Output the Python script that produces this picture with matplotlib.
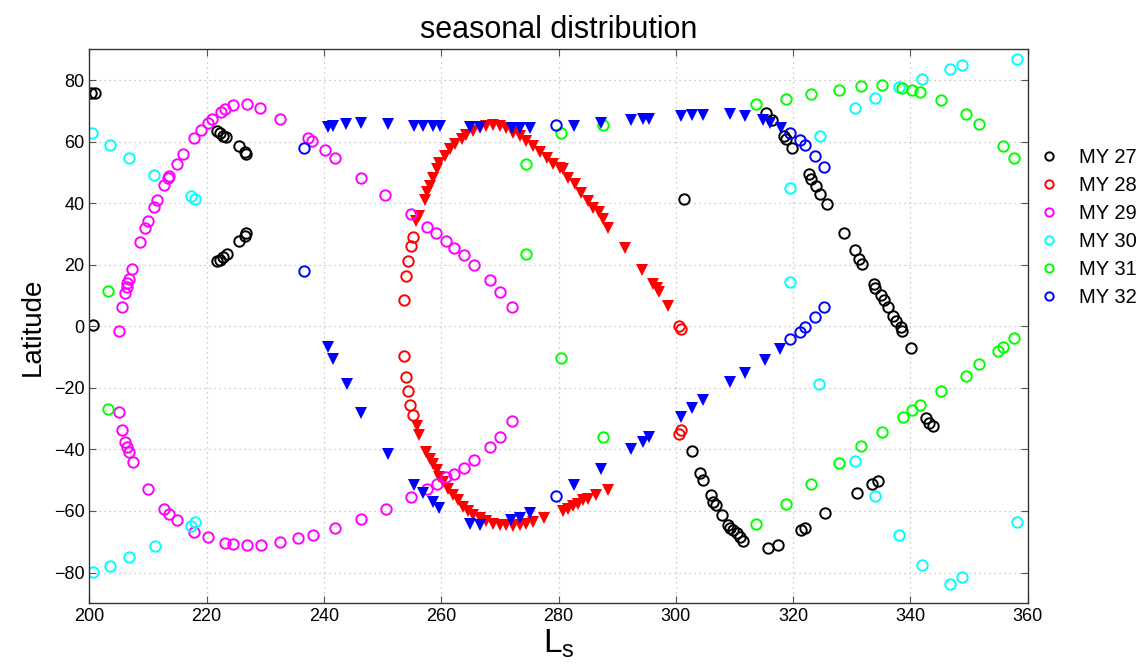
import matplotlib.pyplot as plt
import numpy as np

# ---------------- data ----------------
# MY 27, black circles
ls27 = [200.3, 201.0, 200.6,
        221.7, 222.3, 222.8, 223.3, 225.6, 226.5, 226.7,
        221.7, 222.3, 222.8, 223.4, 225.5, 226.5, 226.7,
        301.4, 302.8, 304.2, 304.7, 306.0, 306.4, 306.8, 307.9, 308.9, 309.3,
        309.8, 310.4, 310.9, 311.4, 315.7, 317.4, 321.4, 322.1,
        315.4, 316.4, 318.4, 318.8, 319.8,
        322.7, 323.1, 323.9, 324.6, 325.8, 328.7, 330.5, 331.3, 331.8,
        333.8, 334.0, 334.9, 335.4, 336.1, 337.0, 337.5, 338.4, 338.6, 340.1,
        342.7, 343.2, 343.8, 325.5, 330.9, 333.5, 334.4]
lat27 = [75.8, 75.8, 0.4,
         63.4, 62.7, 62.0, 61.5, 58.5, 56.6, 55.9,
         21.1, 21.6, 22.6, 23.5, 27.8, 29.4, 30.2,
         41.5, -40.5, -47.5, -49.8, -54.9, -57.1, -58.1, -61.4, -64.4, -65.4,
         -66.2, -67.3, -68.4, -69.7, -72.0, -71.1, -66.2, -65.5,
         69.4, 67.0, 61.8, 61.0, 58.0,
         49.6, 48.0, 45.6, 43.1, 39.9, 30.4, 24.7, 21.8, 20.4,
         13.9, 12.6, 10.2, 8.5, 6.2, 3.5, 1.8, -0.3, -1.6, -7.0,
         -29.7, -31.4, -32.5, -60.8, -54.1, -51.1, -50.2]

# MY 28, red circles and triangles
ls28 = [255.2, 254.8, 254.3, 254.0, 253.6, 253.6, 254.0, 254.3, 254.6, 255.2,
        300.6, 300.9, 300.6, 300.9]
lat28 = [29.1, 26.1, 21.1, 16.4, 8.6, -9.5, -16.5, -20.9, -25.7, -28.7,
         0.2, -0.9, -34.9, -33.8]
ls28_tri = [255.7, 256.2, 257.2, 257.5, 258.1, 258.6, 259.2, 259.7, 260.6, 261.5,
            262.3, 263.5, 264.3, 265.4, 266.6, 267.7, 268.8, 270.0, 271.1, 272.3,
            273.4, 274.5, 275.7, 276.8, 278.0, 279.1, 280.2, 280.8, 281.6, 282.8,
            283.9, 285.0, 285.9, 286.9, 287.6, 288.4, 291.3, 294.3, 296.1, 296.7,
            297.2, 298.7,
            255.8, 256.2, 257.4, 258.0, 258.6, 259.2, 259.7, 260.3, 261.2, 262.0,
            262.9, 263.7, 264.6, 265.4, 266.6, 267.7, 268.8, 270.0, 271.1, 272.2,
            273.4, 274.5, 275.7, 277.6, 280.8, 281.6, 282.5, 283.3, 284.2, 285.0,
            286.4, 288.4]
lat28_tri = [34.3, 36.0, 41.0, 43.5, 45.6, 48.3, 51.0, 53.2, 55.3, 57.5,
             59.1, 61.0, 62.3, 63.6, 64.5, 65.0, 65.4, 65.0, 64.3, 62.9,
             61.8, 60.2, 58.6, 56.7, 54.8, 52.6, 51.5, 51.0, 48.3, 46.1,
             43.4, 40.7, 38.6, 37.0, 34.8, 32.1, 25.6, 18.3, 13.7, 12.6,
             11.0, 6.7,
             -32.5, -35.4, -40.8, -43.0, -44.6, -46.8, -48.9, -50.6, -52.7, -54.9,
             -56.5, -58.7, -60.0, -61.4, -62.4, -63.2, -64.3, -64.7, -64.7, -64.8,
             -64.6, -64.1, -63.5, -62.4, -60.0, -59.2, -58.4, -57.6, -56.5, -56.0,
             -54.9, -53.3]

# MY 29, magenta circles
ls29 = [205.6, 206.1, 206.4, 206.5, 206.8, 207.3, 208.6, 209.5, 210.0, 211.0,
        211.6, 212.8, 213.4, 213.6, 214.9, 216.0, 217.8, 219.0, 220.2, 220.9,
        222.5, 223.2, 224.5, 226.8, 229.1, 232.5, 237.3, 238.0, 240.2, 241.9,
        246.3, 250.4, 254.8, 257.6, 259.1, 260.8, 262.2, 263.8, 265.5, 268.3,
        270.1, 272.1,
        205.1, 205.1, 205.6, 206.1, 206.4, 206.7, 207.4, 210.0, 212.8, 213.6,
        214.9, 217.9, 220.2, 223.2, 224.5, 226.8, 229.3, 232.5, 235.6, 238.1,
        241.9, 246.3, 250.5, 254.9, 257.6, 259.2, 260.8, 262.2, 263.8, 265.5,
        268.3, 270.1, 272.1]
lat29 = [6.2, 10.8, 12.7, 14.0, 15.3, 18.6, 27.4, 31.8, 34.3, 38.9,
         41.1, 45.8, 48.3, 48.8, 52.8, 56.1, 61.3, 63.7, 66.1, 67.5,
         69.6, 70.7, 71.9, 72.1, 71.0, 67.5, 61.3, 60.2, 57.2, 54.6,
         48.3, 42.6, 36.4, 32.4, 30.3, 27.8, 25.6, 23.1, 20.0, 15.1,
         11.3, 6.2,
         -1.6, -27.7, -33.8, -37.6, -39.2, -40.8, -44.0, -53.0, -59.5, -61.0,
         -63.0, -66.8, -68.6, -70.3, -70.8, -71.1, -70.9, -70.2, -68.9, -67.8,
         -65.5, -62.7, -59.5, -55.6, -53.0, -51.3, -48.9, -47.9, -45.9, -43.5,
         -39.2, -35.8, -30.8]

# MY 30, cyan circles
ls30 = [200.4, 203.5, 206.7, 211.0, 217.4, 218.0,
        200.6, 203.5, 206.7, 211.2, 217.3, 218.1,
        319.5, 319.5, 324.5, 330.6, 334.0, 338.0, 341.9, 346.7, 348.7, 358.2,
        324.4, 330.6, 334.0, 338.0, 341.9, 346.7, 348.7, 358.2]
lat30 = [62.7, 58.8, 54.8, 49.2, 42.4, 41.3,
         -79.7, -77.8, -75.0, -71.3, -64.8, -63.7,
         44.8, 14.3, 62.0, 71.0, 74.2, 77.7, 80.5, 83.6, 84.8, 86.9,
         -18.6, -43.9, -55.2, -67.8, -77.6, -83.8, -81.6, -63.7]

# MY 31, green circles
ls31 = [203.2, 203.2, 274.5, 274.5, 280.5, 280.5, 287.5, 287.6,
        313.6, 318.7, 323.1, 327.8, 331.6, 335.1, 338.6, 340.3, 341.7, 345.2,
        349.4, 351.7, 355.8, 357.7,
        313.6, 318.7, 323.1, 327.8, 331.6, 335.1, 338.7, 340.3, 341.7, 345.2,
        349.4, 351.7, 355.0, 355.8, 357.7]
lat31 = [11.6, -26.8, 52.8, 23.6, 62.7, -10.3, 65.3, -36.0,
         72.3, 74.0, 75.6, 76.9, 78.0, 78.3, 77.5, 76.7, 76.2, 73.4,
         69.0, 65.6, 58.6, 54.6,
         -64.1, -57.6, -51.1, -44.3, -39.0, -34.4, -29.5, -27.3, -25.5, -21.1,
         -16.0, -12.4, -7.9, -6.8, -3.8]

# MY 32, blue circles and triangles
ls32 = [236.6, 236.6, 279.5, 279.5,
        319.4, 321.2, 322.1, 323.7, 325.2,
        319.4, 321.1, 322.1, 323.7, 325.2]
lat32 = [57.8, 18.0, 65.4, -55.2,
         62.9, 60.4, 58.8, 55.3, 51.8,
         -4.1, -1.9, -0.1, 3.1, 6.2]
ls32_tri = [240.7, 241.6, 243.7, 246.3, 250.9, 255.4, 256.9, 258.6, 259.8, 264.9,
            266.6, 272.0, 273.4, 275.1, 282.7, 287.3, 292.4, 294.4, 295.5, 300.8,
            302.8, 304.7, 309.3, 311.8, 314.9, 316.0, 318.0,
            240.7, 241.6, 243.9, 246.3, 250.9, 255.4, 256.9, 258.6, 259.7, 264.9,
            266.6, 271.9, 273.4, 275.1, 282.7, 287.3, 292.4, 294.4, 295.5, 300.8,
            302.8, 304.7, 309.3, 311.8, 315.2, 317.7]
lat32_tri = [64.7, 65.0, 65.8, 66.1, 65.8, 65.0, 65.0, 65.0, 65.0, 64.7,
             64.7, 64.3, 64.3, 64.3, 65.0, 66.1, 66.9, 67.2, 67.5, 68.3,
             68.6, 68.8, 69.0, 68.3, 67.0, 66.2, 64.5,
             -6.8, -10.6, -18.9, -28.2, -41.6, -51.6, -54.3, -57.0, -58.9, -64.3,
             -64.6, -63.0, -62.4, -60.6, -51.6, -46.5, -39.8, -37.6, -36.0, -29.3,
             -26.5, -23.9, -18.2, -15.2, -10.8, -7.3]

# ---------------- figure ----------------
plt.rcParams['font.family'] = ['Liberation Sans', 'DejaVu Sans']

fig = plt.figure(figsize=(11.42, 6.72), dpi=100)
ax = fig.add_axes([0.0782, 0.1022, 0.8218, 0.8244])

ms = 7.5
mew = 1.4
ax.plot(ls27, lat27, 'o', mfc='none', mec='black', ms=ms, mew=mew, label='MY 27')
ax.plot(ls28, lat28, 'o', mfc='none', mec='red', ms=ms, mew=mew, label='MY 28')
ax.plot(ls28_tri, lat28_tri, 'v', color='red', ms=ms + 0.5, mew=0)
ax.plot(ls29, lat29, 'o', mfc='none', mec='magenta', ms=ms, mew=mew, label='MY 29')
ax.plot(ls30, lat30, 'o', mfc='none', mec='cyan', ms=ms, mew=mew, label='MY 30')
ax.plot(ls31, lat31, 'o', mfc='none', mec='#00ff00', ms=ms, mew=mew, label='MY 31')
ax.plot(ls32, lat32, 'o', mfc='none', mec='blue', ms=ms, mew=mew, label='MY 32')
ax.plot(ls32_tri, lat32_tri, 'v', color='blue', ms=ms + 0.5, mew=0)

ax.set_xlim(200, 360)
ax.set_ylim(-90, 90)
ax.set_xticks(np.arange(200, 361, 20))
ax.set_yticks(np.arange(-80, 81, 20))
ax.tick_params(direction='in', length=5, top=True, right=True, labelsize=13,
               color='#555555')
ax.grid(True, color='#bbbbbb', linestyle=(0, (1, 3)), linewidth=0.9)
for sp in ax.spines.values():
    sp.set_color('#333333')
    sp.set_linewidth(1.0)

ax.set_title('seasonal distribution', fontsize=22, pad=8)
ax.set_ylabel('Latitude', fontsize=20, labelpad=6)
ax.set_xlabel(r'$\mathregular{L_s}$', fontsize=24, labelpad=2)

ax.legend(loc='upper left', bbox_to_anchor=(0.99, 0.855), frameon=False,
          fontsize=14.5, handletextpad=0.9, labelspacing=0.45, markerscale=0.8,
          handlelength=1.2)

fig.savefig('out.png', dpi=100)
